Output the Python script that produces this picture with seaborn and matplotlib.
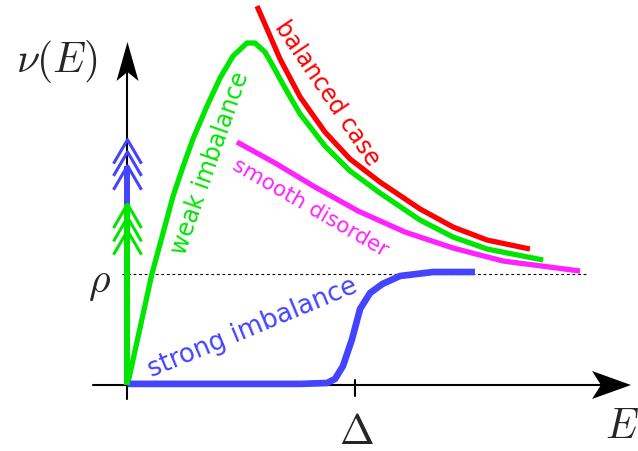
import numpy as np
import pandas as pd
import matplotlib
matplotlib.use("Agg")
import matplotlib.pyplot as plt
import seaborn as sns
from matplotlib.patches import Polygon

# ---------------- data (E in units of Delta, nu in units of rho) ----------------
balanced_E = [0.568, 0.612, 0.669, 0.757, 0.866, 0.976, 1.107, 1.283, 1.428, 1.577, 1.765]
balanced_nu = [3.414, 3.207, 2.937, 2.595, 2.279, 2.036, 1.829, 1.586, 1.423, 1.306, 1.225]

weak_E = [0.0, 0.107, 0.200, 0.243, 0.287, 0.349, 0.406, 0.463, 0.524, 0.559, 0.603,
          0.638, 0.669, 0.713, 0.757, 0.866, 0.976, 1.107, 1.283, 1.428, 1.577, 1.823]
weak_nu = [0.0, 1.0, 1.703, 1.964, 2.216, 2.514, 2.766, 2.964, 3.081, 3.081, 3.0,
           2.874, 2.757, 2.595, 2.441, 2.153, 1.928, 1.730, 1.486, 1.333, 1.225, 1.126]

smooth_E = [0.480, 0.647, 0.822, 1.011, 1.217, 1.428, 1.647, 1.985]
smooth_nu = [2.189, 2.0, 1.784, 1.568, 1.378, 1.234, 1.117, 1.027]

strong_E = [0.0, 0.757, 0.875, 0.910, 0.945, 0.985, 1.020, 1.064, 1.118, 1.195, 1.340, 1.524]
strong_nu = [0.01, 0.01, 0.018, 0.054, 0.171, 0.414, 0.685, 0.829, 0.910, 0.982, 1.018, 1.018]

rho = 1.0
Delta = 1.0
green_delta_top = 1.63
green_chevrons = [1.63, 1.51, 1.39]
blue_delta_top = 1.975
blue_chevrons = [2.21, 2.10, 1.975]

labels = {"balanced": "balanced case", "weak": "weak imbalance",
          "smooth": "smooth disorder", "strong": "strong imbalance"}
colors = {"balanced": "#ff0000", "weak": "#00e600", "smooth": "#ff22ff", "strong": "#4444ff"}

# ---------------- figure ----------------
sns.set_theme(style="white")
plt.rcParams["mathtext.fontset"] = "cm"
plt.rcParams["font.family"] = ["DejaVu Sans"]

W, H = 638, 452
fig = plt.figure(figsize=(W / 100, H / 100), dpi=100)
ax = fig.add_axes([0, 0, 1, 1])
ox, oy = 127.5, 386.0      # pixel position of origin
sx, sy = 228.0, 111.0      # pixels per unit
ax.set_xlim(-ox / sx, (W - ox) / sx)
ax.set_ylim(-(H - oy) / sy, oy / sy)
ax.axis("off")

def px(dx=0, dy=0):
    return dx / sx, dy / sy

# axes lines
x0, _ = px(-34.5)
xt, _ = px(503.5)
_, y0 = px(0, -14)
_, yt = px(0, 343)
ax.plot([x0, xt - px(30)[0]], [0, 0], color="black", lw=1.5, zorder=1)
ax.plot([0, 0], [y0, yt - px(0, 30)[1]], color="black", lw=1.5, zorder=1)

# arrow heads (stealth shape)
L, N, Wx, Wy = 39, 30, 14, 11
ax.add_patch(Polygon([(xt, 0), (xt - L / sx, Wx / sy), (xt - N / sx, 0), (xt - L / sx, -Wx / sy)],
                     closed=True, color="black", zorder=2, lw=0))
ax.add_patch(Polygon([(0, yt), (Wy / sx, yt - L / sy), (0, yt - N / sy), (-Wy / sx, yt - L / sy)],
                     closed=True, color="black", zorder=2, lw=0))

# tick at Delta
ax.plot([Delta, Delta], [5 / sy, -11 / sy], color="black", lw=1.5, zorder=1)

# rho dashed line
ax.plot([-5 / sx, 2.02], [rho, rho], color="black", lw=0.8, ls=(0, (2.5, 2.5)), zorder=1)

# curves
curves = {"smooth": (smooth_E, smooth_nu, 3.8),
          "balanced": (balanced_E, balanced_nu, 3.8),
          "weak": (weak_E, weak_nu, 3.8),
          "strong": (strong_E, strong_nu, 4.8)}
for key, (xs, ys, lw) in curves.items():
    df = pd.DataFrame({"E": xs, "nu": ys})
    sns.lineplot(data=df, x="E", y="nu", ax=ax, color=colors[key], lw=lw,
                 estimator=None, sort=False, solid_capstyle="butt",
                 solid_joinstyle="round", zorder=3)

# delta functions on the axis
ax.plot([0, 0], [0, blue_delta_top], color=colors["strong"], lw=4.3, zorder=4, solid_capstyle="butt")
ax.plot([0, 0], [0, green_delta_top], color=colors["weak"], lw=4.3, zorder=5, solid_capstyle="butt")
cw, ch = 14 / sx, 24 / sy
for t in blue_chevrons:
    ax.plot([-cw, 0, cw], [t - ch, t, t - ch], color=colors["strong"], lw=2.2, zorder=4,
            solid_capstyle="butt")
for t in green_chevrons:
    ax.plot([-cw, 0, cw], [t - ch, t, t - ch], color=colors["weak"], lw=2.2, zorder=5,
            solid_capstyle="butt")

# curve labels
ax.text(0.875, 2.64, labels["balanced"], color=colors["balanced"], fontsize=17, rotation=-56,
        ha="center", va="center", rotation_mode="anchor")
ax.text(0.362, 2.009, labels["weak"], color=colors["weak"], fontsize=17, rotation=70.6,
        ha="center", va="center", rotation_mode="anchor")
ax.text(0.800, 1.604, labels["smooth"], color=colors["smooth"], fontsize=15.5, rotation=-30,
        ha="center", va="center", rotation_mode="anchor")
ax.text(0.551, 0.518, labels["strong"], color=colors["strong"], fontsize=18.5, rotation=22.5,
        ha="center", va="center", rotation_mode="anchor")

# math labels
ax.text(-0.309, 2.919, r"$\nu(E)$", fontsize=30, ha="center", va="center")
ax.text(-0.121, 0.937, r"$\rho$", fontsize=30, ha="center", va="center")
ax.text(1.002, -0.414, r"$\Delta$", fontsize=30, ha="center", va="center")
ax.text(2.169, -0.36, r"$E$", fontsize=30, ha="center", va="center")

fig.savefig("out.png", dpi=100)
